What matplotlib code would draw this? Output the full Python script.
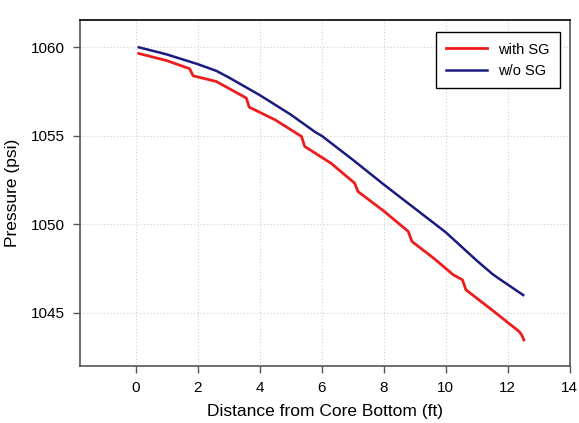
import matplotlib.pyplot as plt

plt.rcParams['font.family'] = ['Liberation Sans', 'DejaVu Sans']

# ── Data ──
x_with = [0.1, 1.0, 1.74, 1.85, 2.6, 3.57, 3.66, 4.5, 5.35, 5.45, 6.3, 7.06, 7.17,
          8.0, 8.79, 8.91, 9.6, 10.24, 10.54, 10.65, 11.5, 12.37, 12.45, 12.52]
p_with = [1059.65, 1059.25, 1058.79, 1058.39, 1058.07, 1057.13, 1056.62, 1055.9, 1054.96, 1054.4,
          1053.45, 1052.33, 1051.85, 1050.75, 1049.6, 1049.03, 1048.1, 1047.15, 1046.86, 1046.3,
          1045.15, 1043.94, 1043.75, 1043.47]

x_without = [0.1, 1.0, 2.0, 2.6, 3.0, 4.0, 5.0, 5.8, 6.0, 7.0, 8.0, 9.0, 10.0, 11.0, 11.5, 11.7, 12.5]
p_without = [1060.0, 1059.6, 1059.05, 1058.67, 1058.3, 1057.3, 1056.2, 1055.2, 1055.0, 1053.65,
             1052.25, 1050.9, 1049.55, 1047.95, 1047.2, 1046.95, 1046.0]

x_ticks = [0, 2, 4, 6, 8, 10, 12, 14]
y_ticks = [1045, 1050, 1055, 1060]

fig, ax = plt.subplots(figsize=(5.79, 4.23), dpi=100)
fig.subplots_adjust(left=0.138, right=0.984, top=0.953, bottom=0.135)

ax.plot(x_with, p_with, color='#ee1c1c', lw=2, label='with SG')
ax.plot(x_without, p_without, color='#1a1a80', lw=1.8, label='w/o SG')

ax.set_xlim(-1.8, 14)
ax.set_ylim(1042, 1061.55)
ax.set_xticks(x_ticks)
ax.set_yticks(y_ticks)

ax.grid(True, color='#d0d0d0', linestyle=(0, (1, 2)), linewidth=0.8)
ax.set_axisbelow(True)

for side in ['left', 'bottom', 'right']:
    ax.spines[side].set_color('#555555')
    ax.spines[side].set_linewidth(1.2)
ax.spines['top'].set_color('black')
ax.spines['top'].set_linewidth(1.2)

ax.tick_params(direction='out', length=5, width=1, color='#555555', labelsize=11, pad=6)
ax.tick_params(top=False, right=False)

ax.set_xlabel("Distance from Core Bottom (ft)", fontsize=12.5, labelpad=6)
ax.set_ylabel("Pressure (psi)", fontsize=12.5, labelpad=8)

leg = ax.legend(loc='upper right', fontsize=10.5, fancybox=False, framealpha=1,
                edgecolor='black', borderpad=0.7, handlelength=2.8,
                bbox_to_anchor=(0.995, 0.985))
leg.get_frame().set_linewidth(1)

plt.savefig('out.png', dpi=100)
